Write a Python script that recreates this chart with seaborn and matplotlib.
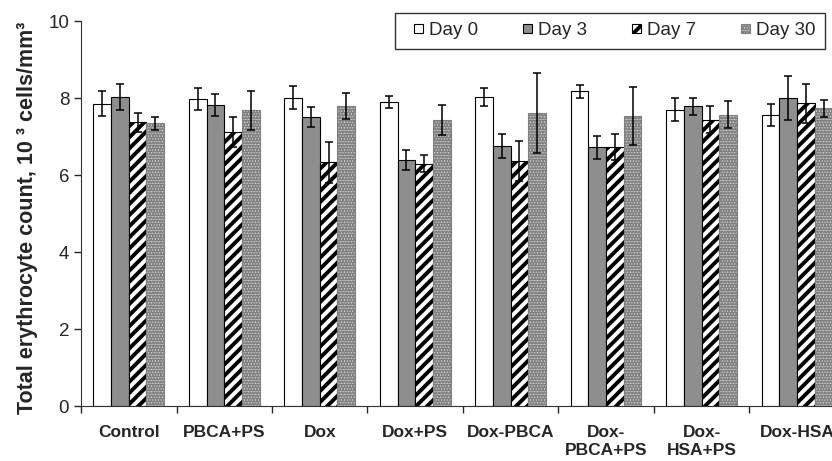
import matplotlib
matplotlib.use('Agg')
import matplotlib.pyplot as plt
import seaborn as sns
import pandas as pd
import numpy as np
from matplotlib.patches import Rectangle
from matplotlib.legend_handler import HandlerPatch

# Values (10^3 cells/mm^3), mean and error bar half-length
groups = ['Control', 'PBCA+PS', 'Dox', 'Dox+PS', 'Dox-PBCA',
          'Dox-\nPBCA+PS', 'Dox-\nHSA+PS', 'Dox-HSA']
days = ['Day 0', 'Day 3', 'Day 7', 'Day 30']

day0 = [7.85, 7.98, 8.01, 7.90, 8.03, 8.17, 7.70, 7.56]
day0_err = [0.33, 0.29, 0.30, 0.16, 0.24, 0.18, 0.30, 0.28]
day3 = [8.03, 7.82, 7.51, 6.38, 6.75, 6.72, 7.78, 8.00]
day3_err = [0.33, 0.28, 0.26, 0.26, 0.31, 0.30, 0.22, 0.56]
day7 = [7.37, 7.12, 6.33, 6.29, 6.36, 6.72, 7.43, 7.86]
day7_err = [0.25, 0.39, 0.53, 0.22, 0.52, 0.34, 0.35, 0.51]
day30 = [7.34, 7.68, 7.79, 7.43, 7.61, 7.53, 7.57, 7.73]
day30_err = [0.16, 0.50, 0.33, 0.39, 1.05, 0.75, 0.36, 0.23]

means = [day0, day3, day7, day30]
errs = [day0_err, day3_err, day7_err, day30_err]

rows = []
for day, vals in zip(days, means):
    for g, v in zip(groups, vals):
        rows.append({'Group': g, 'Day': day, 'Count': v})
df = pd.DataFrame(rows)

sns.set_style('ticks')
plt.rcParams['font.family'] = ['Liberation Sans', 'DejaVu Sans']
plt.rcParams['hatch.linewidth'] = 2.8

palette = {'Day 0': 'white', 'Day 3': '#8e8e8e', 'Day 7': 'white', 'Day 30': '#dedede'}

fig = plt.figure(figsize=(8.32, 4.61), dpi=100)
ax = fig.add_axes([0.0974, 0.1193, 0.918, 0.8351])

sns.barplot(data=df, x='Group', y='Count', hue='Day', order=groups, hue_order=days,
            palette=palette, width=0.74, errorbar=None, edgecolor='black',
            linewidth=0.8, ax=ax)

bar_sets = list(ax.containers)

# patterns for the hatched / dotted series
hatches = [None, None, '///', '......']
edges = ['black', 'black', 'black', '#808080']
for cont, h, ec in zip(bar_sets, hatches, edges):
    for p in cont.patches:
        p.set_edgecolor(ec)
        if h:
            p.set_hatch(h)

# error bars from the bar positions
for cont, e in zip(bar_sets, errs):
    xs = [p.get_x() + p.get_width() / 2 for p in cont.patches]
    ys = [p.get_height() for p in cont.patches]
    ax.errorbar(xs, ys, yerr=e, fmt='none', ecolor='black', elinewidth=1.1,
                capsize=3, capthick=1.1, zorder=5)

ax.set_ylim(0, 10)
ax.set_yticks([0, 2, 4, 6, 8, 10])
ax.set_xlim(-0.5, 7.5)
ax.set_xticks(np.arange(-0.5, 8, 1))
ax.set_xticklabels([])
ax.set_xticks(np.arange(8), minor=True)
ax.set_xticklabels(groups, minor=True, fontweight='bold', fontsize=12.5)
ax.tick_params(axis='x', which='major', length=5, width=1, direction='out')
ax.tick_params(axis='x', which='minor', length=0, pad=14)
ax.tick_params(axis='y', length=5, width=1, labelsize=13.5, direction='out')
for s in ['top', 'right']:
    ax.spines[s].set_visible(False)
for s in ['left', 'bottom']:
    ax.spines[s].set_color('#333333')

ax.set_xlabel('')
ax.set_ylabel('Total erythrocyte count, 10 \u00b3 cells/mm\u00b3', fontweight='bold', fontsize=15.5)
ax.yaxis.set_label_coords(-0.056, 0.49)


# small square key placed at the right end of a wider handle box
def small_square(legend, orig_handle, xdescent, ydescent, width, height, fontsize):
    side = 0.5 * fontsize
    return Rectangle((width - xdescent - side, -ydescent + (height - side) / 2), side, side)


ax.get_legend().remove()
handles = [cont.patches[0] for cont in bar_sets]
leg = fig.legend(handles, days, loc='upper left', bbox_to_anchor=(395 / 832, 1 - 13 / 461),
                 ncol=4, fontsize=13.5, frameon=True, fancybox=False, edgecolor='black',
                 handlelength=1.0, handleheight=0.5, handletextpad=0.3,
                 columnspacing=1.9, borderpad=0.5, borderaxespad=0,
                 handler_map={Rectangle: HandlerPatch(patch_func=small_square)})
leg.get_frame().set_linewidth(1.0)

fig.savefig('out.png', dpi=100)
